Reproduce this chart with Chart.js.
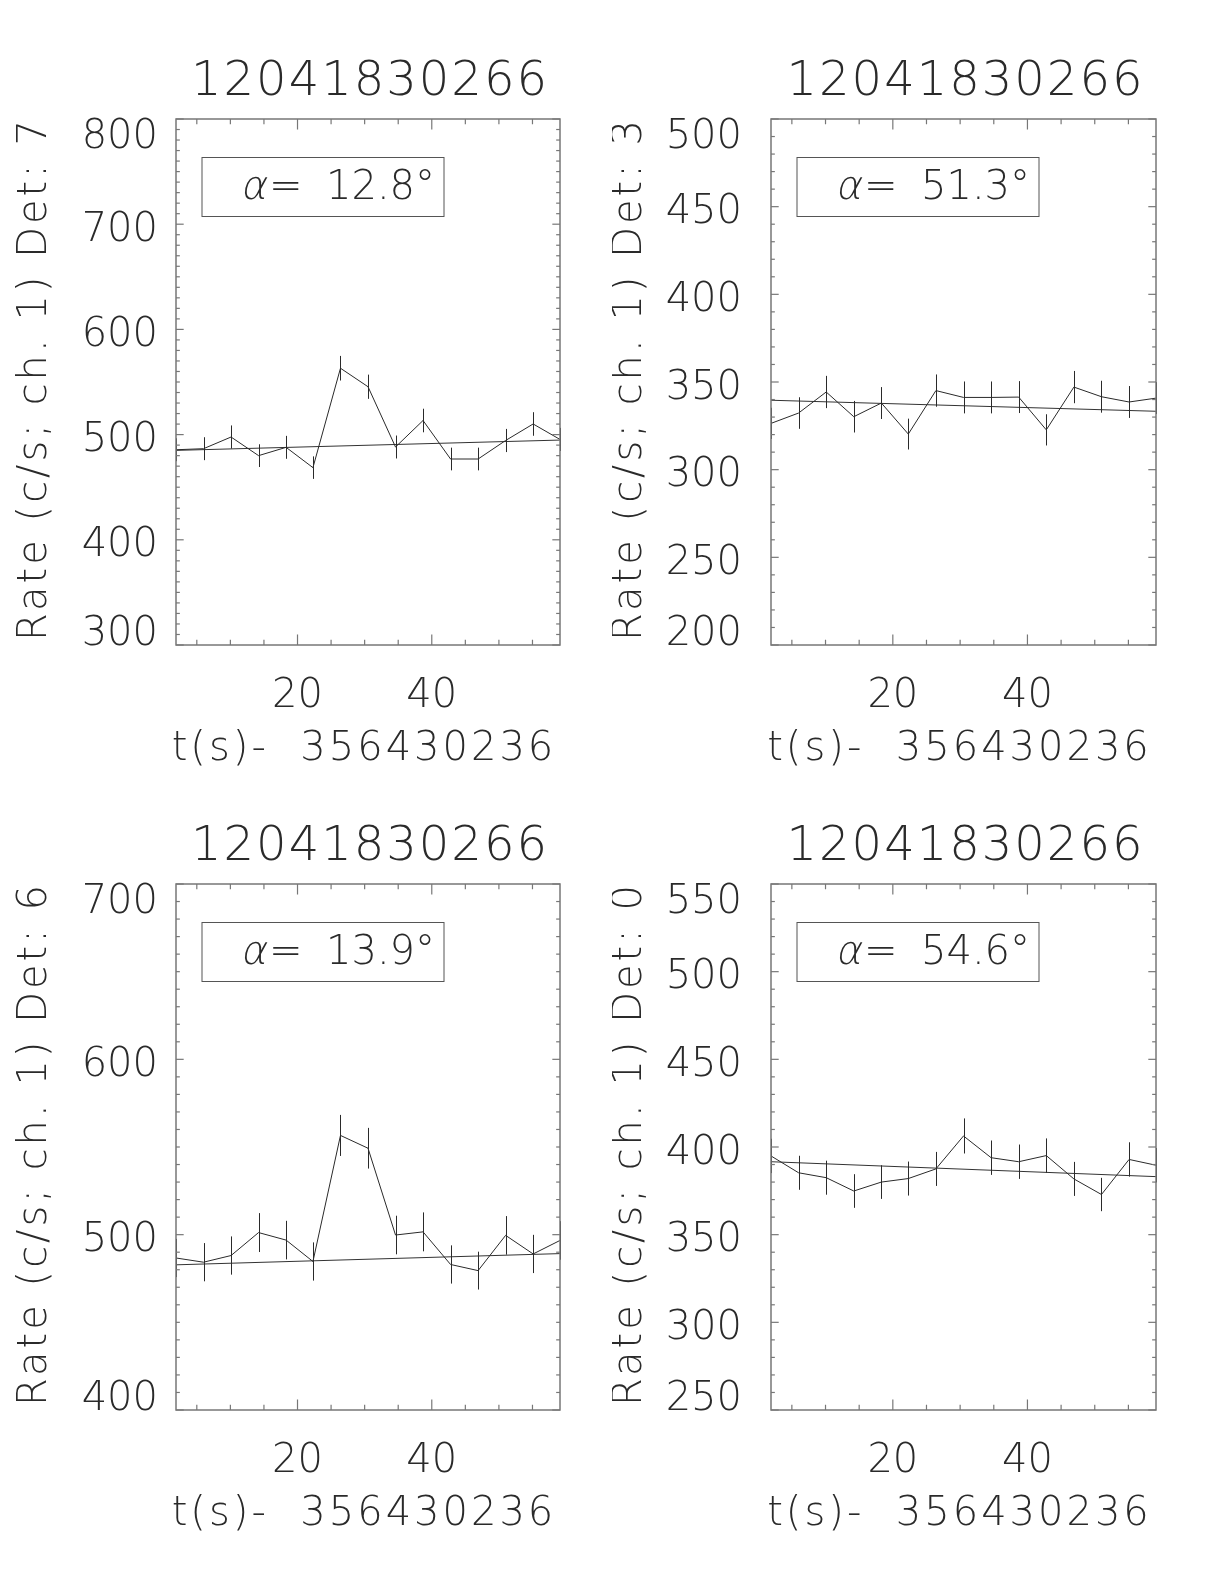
<!DOCTYPE html>
<html>
<head>
<meta charset="utf-8">
<script src="https://cdn.jsdelivr.net/npm/chart.js@4.4.0/dist/chart.umd.min.js"></script>
<style>
  body { margin: 0; background: #fff; width: 1224px; height: 1584px; position: relative; overflow: hidden; }
  .panel { position: absolute; width: 612px; height: 792px; }
</style>
</head>
<body>
<div class="panel" style="left:0;top:0"><canvas id="det7" width="612" height="792"></canvas></div>
<div class="panel" style="left:612px;top:0"><canvas id="det3" width="612" height="792"></canvas></div>
<div class="panel" style="left:0;top:792px"><canvas id="det6" width="612" height="792"></canvas></div>
<div class="panel" style="left:612px;top:792px"><canvas id="det0" width="612" height="792"></canvas></div>
<script>
// burst id and time origin shown on every panel
const burstId = '12041830266';
const tZero = '356430236';

// bin times, s after tZero
const times = [1.9, 6.0, 10.1, 14.2, 18.3, 22.3, 26.4, 30.5, 34.6, 38.7, 42.8, 46.9, 51.0, 55.1, 59.1];
const xTicks = [20, 40];

// Det 7
const det7Rate = [485.6, 486.6, 497.7, 480.0, 487.9, 468.6, 563.1, 545.5, 488.2, 513.4, 476.8, 476.8, 494.4, 510.1, 495.4];
const det7Err  = [10.9, 10.9, 11.0, 10.8, 10.9, 10.7, 11.7, 11.5, 10.9, 11.2, 10.8, 10.8, 11.0, 11.2, 11.0];
const det7Fit  = [485.0, 494.8];
const det7YTicks = [300, 400, 500, 600, 700, 800];

// Det 3
const det3Rate = [326.4, 332.3, 344.3, 330.2, 338.0, 320.3, 345.1, 341.2, 341.2, 341.4, 322.7, 347.1, 341.6, 338.6, 340.8];
const det3Err  = [8.9, 9.0, 9.2, 9.0, 9.1, 8.8, 9.2, 9.1, 9.1, 9.1, 8.9, 9.2, 9.1, 9.1, 9.1];
const det3Fit  = [339.6, 333.3];
const det3YTicks = [200, 250, 300, 350, 400, 450, 500];

// Det 6
const det6Rate = [486.7, 484.3, 488.1, 501.2, 496.9, 484.7, 556.6, 549.3, 499.8, 501.6, 483.0, 479.5, 499.6, 489.0, 496.7];
const det6Err  = [10.9, 10.9, 10.9, 11.1, 11.0, 10.9, 11.7, 11.6, 11.0, 11.1, 10.9, 10.8, 11.0, 10.9, 11.0];
const det6Fit  = [482.8, 489.2];
const det6YTicks = [400, 500, 600, 700];

// Det 0
const det0Rate = [394.9, 385.3, 382.5, 374.9, 380.0, 382.0, 387.5, 406.3, 393.9, 391.6, 395.1, 381.8, 372.9, 392.9, 389.6];
const det0Err  = [9.8, 9.7, 9.7, 9.6, 9.6, 9.7, 9.7, 10.0, 9.8, 9.8, 9.8, 9.7, 9.5, 9.8, 9.8];
const det0Fit  = [391.6, 383.1];
const det0YTicks = [250, 300, 350, 400, 450, 500, 550];

const FONT = '"DejaVu Sans", sans-serif';
const W = 200;
const INK = '#2a2a2a';
const FRAME = '#777';
const CAP = 29;   // cap height of the 40px labels

const idlAxes = {
  id: 'idlAxes',
  afterDatasetsDraw(chart, args, o) {
    const { ctx, chartArea: a, scales: { x, y } } = chart;
    const w = a.right - a.left, h = a.bottom - a.top;
    const seg = (x1, y1, x2, y2) => { ctx.beginPath(); ctx.moveTo(x1, y1); ctx.lineTo(x2, y2); ctx.stroke(); };
    ctx.save();

    // error bars
    ctx.strokeStyle = INK;
    ctx.lineWidth = 1;
    o.rate.forEach((r, i) => {
      const px = Math.round(x.getPixelForValue(times[i])) + 0.5;
      seg(px, y.getPixelForValue(r - o.err[i]), px, y.getPixelForValue(r + o.err[i]));
    });

    // frame + inward ticks on all sides
    ctx.strokeStyle = FRAME;
    ctx.lineWidth = 1.5;
    ctx.strokeRect(a.left, a.top, w, h);
    ctx.lineWidth = 1.2;
    for (let k = 1; k * 5 < x.max; k++) {
      if (k * 5 <= x.min) continue;
      const px = x.getPixelForValue(k * 5);
      const len = (k % 4 === 0) ? 0.02 * h : 0.01 * h;
      seg(px, a.bottom, px, a.bottom - len);
      seg(px, a.top, px, a.top + len);
    }
    for (let v = y.min; v <= y.max; v += o.yMinor) {
      const py = y.getPixelForValue(v);
      const len = ((v - y.min) % o.yMajor === 0) ? 0.02 * w : 0.01 * w;
      seg(a.left, py, a.left + len, py);
      seg(a.right, py, a.right - len, py);
    }

    ctx.fillStyle = INK;
    ctx.textBaseline = 'alphabetic';

    // tick labels
    ctx.font = `${W} 40px ${FONT}`;
    ctx.textAlign = 'right';
    o.yTicks.forEach((v, i) => {
      const py = y.getPixelForValue(v);
      let base = py + CAP / 2 + 2;
      if (i === 0) base = py;
      if (i === o.yTicks.length - 1) base = py + CAP;
      ctx.fillText(String(v), a.left - o.yGap, base);
    });
    ctx.textAlign = 'center';
    xTicks.forEach(v => ctx.fillText(String(v), x.getPixelForValue(v), a.bottom + 62));

    // titles
    ctx.letterSpacing = '3px';
    ctx.fillText('t(s)-  ' + tZero, (a.left + a.right) / 2 - 4, a.bottom + 115);
    ctx.save();
    ctx.translate(a.left - 130, (a.top + a.bottom) / 2 - 3);
    ctx.rotate(-Math.PI / 2);
    ctx.fillText(o.yTitle, 0, 0);
    ctx.restore();
    ctx.font = `${W} 48px ${FONT}`;
    ctx.letterSpacing = '2px';
    ctx.fillText(burstId, (a.left + a.right) / 2 + 2, a.top - 24);
    ctx.letterSpacing = '0px';

    // angle box
    ctx.strokeStyle = '#555';
    ctx.lineWidth = 1;
    ctx.strokeRect(a.left + 26, a.top + 38.5, 242, 59);
    ctx.textAlign = 'left';
    ctx.font = `${W} 40px ${FONT}`;
    ctx.save();
    ctx.translate(a.left + 64, a.top + 80);
    ctx.transform(1, 0, -0.2, 1, 0, 0);
    ctx.fillText('\u03b1', 0, 0);
    ctx.restore();
    ctx.fillText('=', a.left + 93, a.top + 80);
    ctx.fillText(o.alpha + '\u00b0', a.left + 150, a.top + 80);

    ctx.restore();
  }
};

function makePanel(id, rate, err, fit, yTicks, yMajor, yTitle, alpha, pad, yGap) {
  const last = times.length - 1;
  new Chart(document.getElementById(id), {
    type: 'scatter',
    data: {
      datasets: [
        {
          data: times.map((t, i) => ({ x: t, y: rate[i] })),
          showLine: true, borderColor: INK, borderWidth: 1, pointRadius: 0
        },
        {
          data: [{ x: times[0], y: fit[0] }, { x: times[last], y: fit[1] }],
          showLine: true, borderColor: '#333', borderWidth: 1, pointRadius: 0
        }
      ]
    },
    options: {
      responsive: false,
      animation: false,
      events: [],
      layout: { padding: pad },
      scales: {
        x: { type: 'linear', display: false, min: times[0], max: times[last] },
        y: { type: 'linear', display: false, min: yTicks[0], max: yTicks[yTicks.length - 1] }
      },
      plugins: {
        legend: { display: false },
        tooltip: { enabled: false },
        idlAxes: { rate, err, yTicks, yMajor, yMinor: 10, yTitle, alpha, yGap }
      }
    },
    plugins: [idlAxes]
  });
}

makePanel('det7', det7Rate, det7Err, det7Fit, det7YTicks, 100, 'Rate (c/s; ch. 1) Det: 7', '12.8',
  { left: 176, top: 119, right: 52, bottom: 147 }, 18);
makePanel('det3', det3Rate, det3Err, det3Fit, det3YTicks, 50, 'Rate (c/s; ch. 1) Det: 3', '51.3',
  { left: 159, top: 119, right: 68, bottom: 147 }, 29);
makePanel('det6', det6Rate, det6Err, det6Fit, det6YTicks, 100, 'Rate (c/s; ch. 1) Det: 6', '13.9',
  { left: 176, top: 92, right: 52, bottom: 174 }, 18);
makePanel('det0', det0Rate, det0Err, det0Fit, det0YTicks, 50, 'Rate (c/s; ch. 1) Det: 0', '54.6',
  { left: 159, top: 92, right: 68, bottom: 174 }, 29);
</script>
</body>
</html>
